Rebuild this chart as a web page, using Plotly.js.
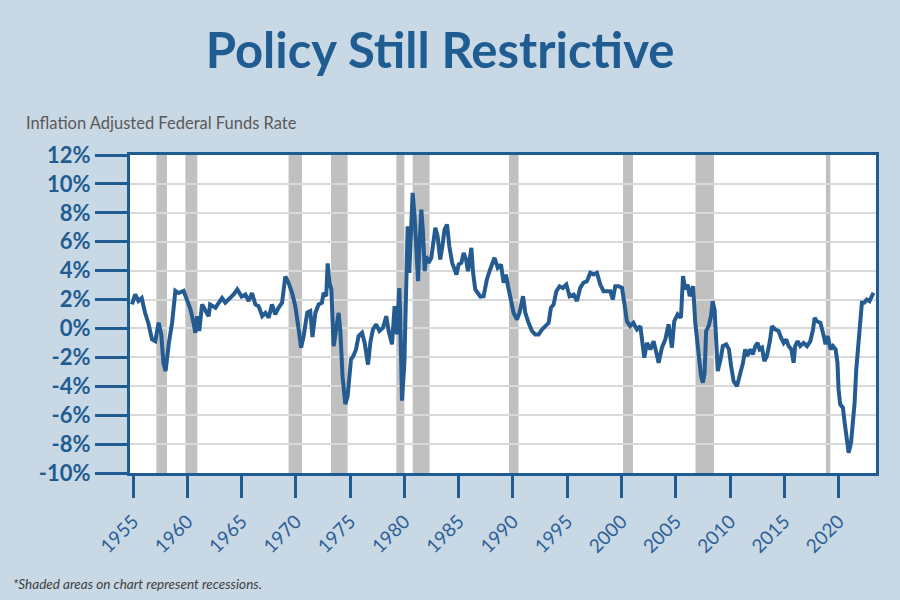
<!DOCTYPE html>
<html>
<head>
<meta charset="utf-8">
<script src="https://cdn.plot.ly/plotly-3.0.1.min.js"></script>
<style>html,body{margin:0;padding:0;background:#c9d8e5;}#chart{width:900px;height:600px;}</style>
</head>
<body>
<div id="chart"></div>
<script>
// Inflation adjusted federal funds rate (%), positions
const years = [1954.9,1955.2,1955.5,1955.8,1956.1,1956.4,1956.75,1957.05,1957.36,1957.6,1957.8,1958.0,1958.3,1958.6,1958.9,1959.2,1959.66,1960.0,1960.3,1960.6,1960.74,1960.9,1961.1,1961.36,1961.66,1961.97,1962.1,1962.6,1962.9,1963.2,1963.5,1963.96,1964.27,1964.6,1965.0,1965.35,1965.65,1965.96,1966.27,1966.57,1966.9,1967.2,1967.5,1967.8,1968.1,1968.4,1968.73,1969.03,1969.33,1969.65,1969.95,1970.26,1970.48,1970.72,1971.05,1971.33,1971.53,1971.8,1972.1,1972.4,1972.56,1972.8,1972.93,1973.1,1973.27,1973.48,1973.7,1973.94,1974.1,1974.3,1974.56,1974.77,1975.08,1975.3,1975.54,1975.78,1976.1,1976.34,1976.65,1976.86,1977.1,1977.4,1977.7,1978.03,1978.33,1978.55,1978.86,1979.1,1979.32,1979.53,1979.6,1979.78,1980.0,1980.18,1980.3,1980.45,1980.57,1980.76,1980.94,1981.1,1981.26,1981.4,1981.56,1981.72,1981.87,1982.0,1982.23,1982.48,1982.7,1982.85,1983.06,1983.3,1983.5,1983.7,1983.93,1984.14,1984.4,1984.63,1984.8,1985.0,1985.25,1985.46,1985.68,1985.86,1986.0,1986.17,1986.33,1986.53,1986.75,1987.0,1987.3,1987.6,1987.9,1988.3,1988.6,1988.9,1989.14,1989.36,1989.55,1989.76,1990.06,1990.37,1990.6,1990.93,1991.14,1991.44,1991.76,1992.06,1992.37,1992.68,1992.98,1993.29,1993.5,1993.75,1994.0,1994.3,1994.6,1994.92,1995.22,1995.6,1995.9,1996.2,1996.5,1996.82,1997.13,1997.43,1997.74,1998.05,1998.35,1998.66,1998.97,1999.2,1999.43,1999.73,2000.05,2000.26,2000.5,2000.8,2001.1,2001.43,2001.74,2002.1,2002.35,2002.66,2002.96,2003.18,2003.42,2003.73,2004.04,2004.34,2004.65,2004.86,2005.17,2005.48,2005.67,2005.88,2006.1,2006.28,2006.6,2006.8,2007.1,2007.33,2007.5,2007.66,2007.8,2008.03,2008.25,2008.4,2008.58,2008.75,2008.87,2009.13,2009.34,2009.65,2009.9,2010.1,2010.33,2010.64,2010.95,2011.2,2011.4,2011.6,2011.87,2012.1,2012.33,2012.54,2012.72,2012.95,2013.16,2013.4,2013.7,2013.86,2014.17,2014.47,2014.7,2014.94,2015.18,2015.4,2015.65,2015.86,2016.0,2016.23,2016.47,2016.78,2017.1,2017.4,2017.65,2017.8,2018.0,2018.33,2018.64,2018.8,2019.0,2019.27,2019.48,2019.73,2019.9,2020.0,2020.15,2020.4,2020.56,2020.7,2020.93,2021.15,2021.33,2021.48,2021.63,2021.84,2022.0,2022.15,2022.36,2022.6,2022.85,2023.07,2023.22];
const rate = [1.66,2.35,1.9,2.1,1.1,0.4,-0.76,-0.88,0.4,-0.4,-2.4,-2.95,-1.0,0.4,2.6,2.45,2.6,1.8,1.3,0.28,-0.3,0.85,-0.18,1.66,1.3,0.85,1.66,1.43,1.78,2.1,1.78,2.1,2.35,2.7,2.2,2.35,1.9,2.45,1.66,1.54,0.85,1.08,0.74,1.66,0.97,1.43,1.78,3.6,3.16,2.47,1.54,-0.07,-1.33,-0.53,1.1,1.2,-0.6,1.08,1.66,1.78,2.47,2.23,4.5,3.16,2.7,-1.22,-0.07,1.08,-0.18,-3.3,-5.25,-4.68,-2.14,-1.9,-1.45,-0.53,-0.3,-1.0,-2.5,-1.0,-0.07,0.28,-0.18,0.05,0.85,-0.18,-1.1,1.54,-0.4,2.8,1.3,-5.0,-2.37,2.7,7.07,3.85,6.15,9.38,7.76,5.0,3.27,5.92,8.22,6.6,3.96,5.0,4.54,4.89,6.5,6.96,6.38,4.77,5.69,6.84,7.19,5.69,4.54,4.08,3.73,4.42,4.54,5.23,4.77,3.96,4.77,5.58,3.85,2.7,2.47,2.2,2.23,3.39,4.08,4.89,4.2,4.42,3.16,3.73,2.92,2.0,1.08,0.62,1.08,2.23,1.08,0.39,-0.18,-0.41,-0.41,-0.07,0.16,0.39,1.43,1.66,2.58,2.92,2.8,3.04,2.23,2.35,1.89,2.81,3.16,3.27,3.85,3.73,3.85,3.04,2.58,2.58,2.58,2.0,2.92,2.92,2.81,1.78,0.5,0.16,0.39,-0.07,0.16,-2.02,-1.0,-1.45,-0.88,-1.57,-2.37,-1.33,-0.76,0.28,-1.33,0.5,0.97,0.74,3.62,2.7,3.04,2.23,2.92,0.39,-1.45,-3.3,-3.75,-3.06,-0.18,0.16,0.85,1.89,1.3,-1.0,-2.95,-2.14,-1.22,-1.1,-1.45,-2.6,-3.64,-3.99,-3.06,-2.37,-1.45,-1.91,-1.45,-1.8,-1.22,-1.0,-1.45,-1.33,-2.26,-1.91,-0.76,0.16,-0.07,-0.18,-0.64,-1.0,-0.76,-1.22,-1.45,-2.37,-1.22,-0.88,-1.22,-1.0,-1.22,-0.88,-0.07,0.74,0.5,0.39,-0.53,-1.1,-0.53,-1.45,-1.22,-1.45,-2.37,-4.2,-5.25,-5.48,-6.5,-7.44,-8.6,-7.9,-6.5,-5.13,-2.83,-1.22,-0.07,1.78,1.78,2.0,1.89,2.23,2.47];

// Recession bands (start, end) as placed in the picture
const recessionStart = [1957.15,1959.82,1969.33,1973.24,1979.26,1980.76,1989.64,2000.14,2006.82,2018.84];
const recessionEnd   = [1958.13,1960.92,1970.57,1974.77,1980.0,1982.32,1990.52,2001.06,2008.52,2019.24];

const xTickVals = [1955,1960,1965,1970,1975,1980,1985,1990,1995,2000,2005,2010,2015,2020];
const yTickVals = [-10,-8,-6,-4,-2,0,2,4,6,8,10,12];
const yTickText = yTickVals.map(v => v + '%');

const blue = '#1f5c92';

const shapes = recessionStart.map((s, i) => ({
  type: 'rect', xref: 'x', yref: 'paper', x0: s, x1: recessionEnd[i], y0: 0, y1: 1,
  fillcolor: '#c0c0c0', line: {width: 0}, layer: 'between'
}));

const data = [{
  x: years, y: rate, type: 'scatter', mode: 'lines',
  line: {color: '#245c91', width: 4}, hoverinfo: 'skip'
}];

const layout = {
  width: 900, height: 600,
  paper_bgcolor: '#c9d8e5', plot_bgcolor: '#ffffff',
  margin: {l: 130, r: 24, t: 155, b: 127},
  showlegend: false,
  title: {
    text: 'Policy Still Restrictive',
    font: {family: 'Lato, "Open Sans", sans-serif', size: 49, weight: 'bold', color: blue},
    x: 0.489, xanchor: 'center', y: 0.915, yanchor: 'middle'
  },
  xaxis: {
    range: [1954.72, 2023.45], tickvals: xTickVals, ticktext: xTickVals.map(String),
    tickangle: -45, ticks: 'outside', ticklen: 22, tickwidth: 3, tickcolor: blue,
    ticklabelstandoff: 5,
    tickfont: {family: 'Lato, sans-serif', size: 19, color: '#2c6096'},
    showgrid: false, zeroline: false, showline: true, linecolor: blue, linewidth: 3, mirror: true
  },
  yaxis: {
    range: [-10, 12], tickvals: yTickVals, ticktext: yTickText,
    ticks: 'outside', ticklen: 32, tickwidth: 3, tickcolor: blue,
    tickfont: {family: 'Lato, sans-serif', size: 22, weight: 'bold', color: blue},
    showgrid: true, gridcolor: '#d9d9d9', gridwidth: 2, zeroline: false,
    showline: true, linecolor: blue, linewidth: 3, mirror: true
  },
  shapes: shapes,
  annotations: [
    {text: 'Inflation Adjusted Federal Funds Rate', xref: 'paper', yref: 'paper',
     x: (24 - 130) / 746, y: (473 - 123) / 318, xanchor: 'left', yanchor: 'middle', showarrow: false,
     font: {family: 'Lato, sans-serif', size: 16.5, color: '#595959'}},
    {text: '<i>*Shaded areas on chart represent recessions.</i>', xref: 'paper', yref: 'paper',
     x: (11 - 130) / 746, y: (473 - 584) / 318, xanchor: 'left', yanchor: 'middle', showarrow: false,
     font: {family: 'Lato, sans-serif', size: 13.5, color: '#404040', style: 'italic'}}
  ]
};

Plotly.newPlot('chart', data, layout, {displayModeBar: false, staticPlot: true});
</script>
</body>
</html>
